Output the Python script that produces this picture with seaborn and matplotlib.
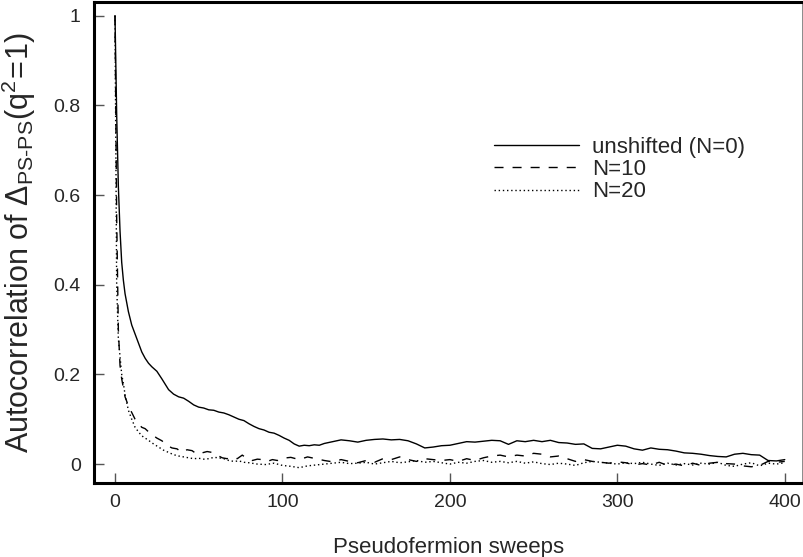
import numpy as np
import pandas as pd
import matplotlib
matplotlib.use("Agg")
import matplotlib.pyplot as plt
import seaborn as sns

# Data
x_n0 = [0, 1, 2, 3, 4, 5, 6, 8, 10, 12, 14, 16, 18, 20, 22, 25, 28, 30, 32, 35, 38, 41, 44, 47, 50,
        53, 56, 59, 62, 65, 68, 71, 74, 77, 80, 83, 86, 89, 92, 95, 98, 101, 104, 107, 110, 113, 116,
        119, 122, 125, 130, 135, 140, 145, 150, 155, 160, 165, 170, 175, 180, 185, 190, 195, 200, 205,
        210, 215, 220, 225, 230, 235, 240, 245, 250, 255, 260, 265, 270, 275, 280, 285, 290, 295, 300,
        305, 310, 315, 320, 325, 330, 335, 340, 345, 350, 355, 360, 365, 370, 375, 380, 385, 390, 395, 400]
y_n0 = [1.0, 0.78, 0.62, 0.52, 0.45, 0.41, 0.38, 0.34, 0.31, 0.29, 0.27, 0.25, 0.236, 0.225, 0.217,
        0.207, 0.19, 0.178, 0.166, 0.156, 0.15, 0.147, 0.14, 0.132, 0.127, 0.125, 0.121, 0.12, 0.116,
        0.114, 0.11, 0.105, 0.1, 0.097, 0.09, 0.084, 0.079, 0.076, 0.071, 0.069, 0.064, 0.058, 0.053,
        0.045, 0.04, 0.042, 0.041, 0.043, 0.042, 0.046, 0.05, 0.054, 0.052, 0.049, 0.053, 0.055, 0.056,
        0.054, 0.055, 0.052, 0.045, 0.036, 0.038, 0.041, 0.042, 0.046, 0.05, 0.049, 0.051, 0.053, 0.052,
        0.044, 0.052, 0.05, 0.053, 0.05, 0.053, 0.048, 0.047, 0.044, 0.045, 0.035, 0.034, 0.038, 0.042,
        0.04, 0.034, 0.031, 0.036, 0.033, 0.032, 0.029, 0.025, 0.024, 0.022, 0.019, 0.017, 0.016, 0.022,
        0.024, 0.021, 0.02, 0.008, 0.007, 0.01]

x_n10 = [0, 1, 2, 3, 4, 5, 6, 8, 10, 12, 14, 16, 18, 20, 22, 25, 28, 31, 34, 37, 40, 43, 46, 49, 52,
         55, 58, 61, 64, 67, 70, 73, 76, 79, 82, 85, 88, 91, 94, 97, 100, 105, 110, 115, 120, 125, 130,
         135, 140, 145, 150, 155, 160, 165, 170, 175, 180, 185, 190, 195, 200, 205, 210, 215, 220, 225,
         230, 235, 240, 245, 250, 255, 260, 265, 270, 275, 280, 285, 290, 295, 300, 305, 310, 315, 320,
         325, 330, 335, 340, 345, 350, 355, 360, 365, 370, 375, 380, 385, 390, 395, 400]
y_n10 = [1.0, 0.55, 0.3, 0.22, 0.19, 0.17, 0.15, 0.13, 0.115, 0.1, 0.09, 0.082, 0.079, 0.072, 0.066,
         0.058, 0.052, 0.042, 0.036, 0.034, 0.026, 0.032, 0.03, 0.022, 0.025, 0.028, 0.026, 0.02, 0.014,
         0.012, 0.016, 0.012, 0.02, 0.012, 0.008, 0.011, 0.01, 0.006, 0.01, 0.008, 0.013, 0.015, 0.01,
         0.016, 0.012, 0.008, 0.005, 0.01, 0.006, 0.003, 0.008, 0.004, 0.012, 0.01, 0.016, 0.01, 0.006,
         0.012, 0.01, 0.008, 0.01, 0.006, 0.012, 0.008, 0.014, 0.018, 0.02, 0.016, 0.02, 0.018, 0.024,
         0.022, 0.016, 0.018, 0.012, 0.006, 0.01, 0.006, 0.004, 0.002, 0.005, 0.003, -0.002, 0.001,
         -0.002, 0.004, -0.003, 0.0, -0.004, 0.002, -0.003, 0.002, 0.004, 0.001, 0.0, -0.004, -0.006,
         -0.003, 0.006, 0.004, 0.006]

x_n20 = [0, 1, 2, 3, 4, 5, 6, 8, 10, 12, 14, 16, 18, 20, 23, 26, 29, 32, 35, 38, 41, 44, 47, 50, 53,
         56, 59, 62, 65, 68, 71, 74, 77, 80, 85, 90, 95, 100, 105, 110, 115, 120, 125, 130, 135, 140,
         145, 150, 155, 160, 165, 170, 175, 180, 185, 190, 195, 200, 205, 210, 215, 220, 225, 230, 235,
         240, 245, 250, 255, 260, 265, 270, 275, 280, 285, 290, 295, 300, 305, 310, 315, 320, 325, 330,
         335, 340, 345, 350, 355, 360, 365, 370, 375, 380, 385, 390, 395, 400]
y_n20 = [1.0, 0.4, 0.28, 0.24, 0.2, 0.18, 0.155, 0.12, 0.1, 0.082, 0.072, 0.063, 0.058, 0.053, 0.045,
         0.038, 0.031, 0.026, 0.021, 0.018, 0.016, 0.014, 0.012, 0.013, 0.011, 0.012, 0.015, 0.014,
         0.012, 0.008, 0.006, 0.007, 0.004, 0.003, 0.0, -0.001, 0.002, -0.003, -0.005, -0.008, -0.004,
         -0.002, 0.0, 0.002, 0.004, 0.001, 0.002, 0.004, 0.0, 0.003, 0.006, 0.003, 0.005, 0.008, 0.004,
         0.006, 0.003, 0.0, 0.004, 0.002, 0.006, 0.008, 0.004, 0.006, 0.003, 0.006, 0.002, 0.005, 0.001,
         -0.001, 0.002, 0.0, -0.003, 0.003, 0.006, 0.004, 0.002, 0.0, 0.003, 0.001, 0.004, 0.0, -0.003,
         0.002, -0.002, 0.001, -0.002, 0.002, 0.0, 0.004, -0.003, -0.005, 0.0, 0.003, -0.004, 0.002,
         0.0, 0.003]

labels = ["unshifted (N=0)", "N=10", "N=20"]

sns.set_style("ticks")
plt.rcParams['font.family'] = ['Liberation Sans', 'DejaVu Sans']
plt.rcParams['mathtext.fontset'] = 'custom'
plt.rcParams['mathtext.rm'] = 'Liberation Sans'
plt.rcParams['mathtext.default'] = 'regular'

fig = plt.figure(figsize=(8.04, 5.57), dpi=100)
ax = fig.add_axes([0.117, 0.133, 0.882, 0.863])

sns.lineplot(x=x_n0, y=y_n0, ax=ax, color="black", lw=1.0, linestyle="-", label=labels[0])
sns.lineplot(x=x_n10, y=y_n10, ax=ax, color="black", lw=1.0, linestyle=(0, (6.5, 6.5)), label=labels[1])
sns.lineplot(x=x_n20, y=y_n20, ax=ax, color="black", lw=1.0, linestyle=(0, (1, 2)), label=labels[2])

ax.set_xlim(-12.5, 411)
ax.set_ylim(-0.042, 1.03)
ax.set_xticks([0, 100, 200, 300, 400])
ax.set_yticks([0, 0.2, 0.4, 0.6, 0.8, 1.0])
ax.set_yticklabels(["0", "0.2", "0.4", "0.6", "0.8", "1"])
ax.tick_params(direction="in", length=7, width=1, color="#555555", labelsize=14)
ax.tick_params(axis="y", pad=9.5)
ax.tick_params(axis="x", pad=8)

for s in ax.spines.values():
    s.set_color("black")
    s.set_linewidth(2.2)
ax.spines["right"].set_color("#777777")
ax.spines["right"].set_linewidth(1.2)

ax.set_xlabel("Pseudofermion sweeps", fontsize=16, labelpad=19)
ax.set_ylabel(r"Autocorrelation of $\Delta_{PS\text{-}PS}(q^2\!=\!1)$", fontsize=22, labelpad=11)

ax.legend(loc="upper left", bbox_to_anchor=(0.552, 0.738), frameon=False, fontsize=16,
          borderaxespad=0, handlelength=3.8, handletextpad=0.6, labelspacing=0.05)

fig.savefig("out.png", dpi=100)
